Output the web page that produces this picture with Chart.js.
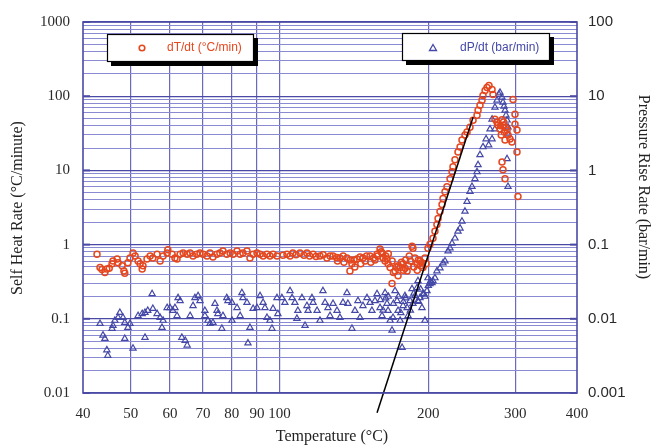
<!DOCTYPE html>
<html><head><meta charset="utf-8">
<script src="https://cdn.jsdelivr.net/npm/chart.js@4"></script>
<style>html,body{margin:0;padding:0;background:#fff}</style>
</head><body><canvas id="c" width="654" height="447"></canvas>
<script>
// ---- axis ticks ----
const xTickValues = [40,50,60,70,80,90,100,200,300,400];
const leftDecades = [0.01,0.1,1,10,100,1000];
const leftDecadeLabels = ['0.01','0.1','1','10','100','1000'];
const rightDecades = [0.001,0.01,0.1,1,10,100];
const rightDecadeLabels = ['0.001','0.01','0.1','1','10','100'];

// ---- dT/dt (°C/min) : [temperature °C, rate] ----
const dTdtLow = [[42.7,0.74],[43.3,0.49],[43.7,0.46],[44.3,0.42],[44.7,0.47],[45.2,0.48],[45.8,0.55],[46,0.6],[46.9,0.64],[47.1,0.57],[48,0.52],[48.4,0.44],[48.6,0.41],[49.3,0.57],[49.8,0.66],[50.5,0.77],[51,0.7],[51.7,0.6],[52.2,0.55],[52.7,0.47],[52.9,0.52],[53.9,0.64],[54.7,0.7],[55.4,0.66],[56.5,0.74],[57.3,0.6],[58.1,0.7],[59.2,0.77],[59.4,0.85],[60.6,0.74],[61.4,0.66],[62,0.64],[62.9,0.74],[63.8,0.77],[65,0.74],[65.9,0.77],[66.8,0.7],[68,0.74],[69,0.77],[70,0.74],[71.3,0.7],[72.3,0.77],[73.3,0.68],[74.7,0.74],[75.7,0.77],[76.8,0.82],[78.2,0.74],[79.4,0.77],[80.5,0.74],[82,0.82],[83.2,0.74],[84.3,0.77],[85.9,0.82],[87.1,0.66],[88.4,0.74],[90,0.77],[91.3,0.74],[92.6,0.7],[94.3,0.74],[95.6,0.7],[97,0.74],[98.8,0.7]];
const dTdtMid = [[101.6,0.72],[103.5,0.74],[105,0.7],[106.4,0.77],[108,0.73],[110,0.77],[112,0.72],[113.6,0.77],[115,0.7],[116.9,0.74],[118.5,0.69],[120.7,0.7],[122.5,0.73],[124.7,0.66],[126.5,0.7],[128.3,0.7],[130.5,0.67],[132.5,0.66],[134.5,0.7],[136.9,0.66],[138.8,0.44],[140.1,0.55],[141.5,0.62],[143.4,0.64],[145.5,0.68],[147.5,0.66],[150,0.7],[152.4,0.7],[155,0.66],[157.5,0.74],[159.7,0.87],[160.5,0.8],[161.2,0.77],[162,0.66],[163.5,0.6],[165,0.64],[165.8,0.55],[167.4,0.49],[168.9,0.3],[170,0.42],[171.3,0.44],[172.5,0.5],[173.7,0.38],[175.4,0.49],[176.5,0.58],[177.8,0.55],[179.5,0.48],[181.2,0.44],[182,0.52],[184,0.6],[185.4,0.95],[186.2,0.89],[188,0.66],[189.8,0.55],[191,0.62],[192.4,0.6],[195.1,0.49],[196.9,0.66],[199.7,0.89],[131,0.6],[135,0.58],[139,0.62],[142,0.5],[146,0.55],[149,0.6],[153,0.58],[156,0.62],[158,0.7],[164,0.7],[166,0.75],[169,0.6],[174,0.52],[178,0.45],[180,0.62],[183,0.7],[187,0.5],[190,0.45],[193,0.52],[194,0.57],[198,0.55]];
const dTdtRise = [[201.6,1.01],[204.4,1.22],[206.3,1.51],[208.2,1.87],[209.3,2.25],[211.2,2.8],[213.2,3.47],[214.2,4.17],[216.2,5.17],[218.2,6.04],[221.3,7.72],[223.4,9.58],[224.4,11.2],[226.5,13.9],[229.7,17.7],[231.9,20.7],[234,25.6],[237.3,29.9],[239.6,32.8],[242.9,38.3],[246.4,47.4],[251,55.4],[252.2,64.6],[254.5,75.4],[256.9,87.9],[258.1,102.5],[260.6,119.6],[263,131],[265.4,139],[269.2,123],[270.4,105.7]];
const dTdtPeak = [[272.9,48.9],[275.5,44.7],[276.7,40.7],[279.3,36],[282,48],[283.3,40.7],[286,25.6],[288.7,34.9],[290,29.9],[292.7,26.4],[295.4,24.1],[296.8,90.6],[299.6,57.1],[299.6,42],[302.4,34.9],[302.4,17.7],[303.8,4.44],[282,13],[283.3,10.2],[286,7.72],[280,40],[284,45],[287,38],[285,33],[281,30]];

// ---- dP/dt (bar/min) : [temperature °C, rate] ----
const dPdtLow = [[43.3,0.0086],[43.9,0.006],[44.3,0.0054],[44.9,0.0032],[44.7,0.0038],[45.8,0.0074],[46,0.0081],[46.4,0.0095],[47.1,0.0104],[47.5,0.0121],[48.2,0.0104],[48.6,0.0089],[48.6,0.0054],[49.3,0.0076],[49.8,0.0086],[50.5,0.004],[51.7,0.011],[52.7,0.0117],[53.4,0.0121],[53.4,0.0056],[54.1,0.0129],[55.2,0.0217],[55.4,0.0137],[56.5,0.0117],[57.3,0.0104],[57.8,0.0076],[58.1,0.0095],[59.2,0.0141],[60,0.0141],[60.8,0.0129],[61.4,0.0141],[62,0.011],[62.3,0.0192],[62.9,0.0175],[63.4,0.0056],[64.4,0.0051],[65,0.0044],[65.9,0.011],[66.8,0.015],[67.4,0.0192],[68.4,0.0204],[69,0.0175],[70.6,0.0129],[70.6,0.011],[71.6,0.0095],[72.3,0.0086],[73.3,0.0089],[74,0.016],[74.7,0.0129],[75,0.0117],[76.4,0.0074],[76.8,0.011],[78.2,0.0192],[78.6,0.0175],[80.1,0.0165],[80.1,0.0095],[82,0.0141],[83.2,0.011],[83.9,0.0224],[84.3,0.0192],[85.9,0.0165],[86.3,0.0047],[87.1,0.0076],[88.4,0.0137],[90,0.0141],[91.3,0.0204],[92.6,0.0165],[93.4,0.0141],[94.3,0.0104],[95.6,0.0095],[96.5,0.0074],[97,0.0137],[98.8,0.0192]];
const dPdtMid = [[99.2,0.0117],[101.1,0.0192],[102.5,0.0165],[105,0.0238],[106,0.0192],[107.4,0.0165],[108.4,0.0101],[108.9,0.0129],[111,0.0192],[112.6,0.0081],[113.6,0.015],[114.2,0.0129],[116.3,0.0192],[116.9,0.0165],[119.1,0.0129],[120.7,0.0095],[122.4,0.0238],[123.6,0.0165],[125.3,0.0141],[126.5,0.011],[128.3,0.016],[130.7,0.0129],[132.5,0.0104],[134.4,0.0165],[136.9,0.0224],[137.5,0.016],[140.1,0.0074],[142.1,0.0129],[144.1,0.0175],[145.5,0.0104],[147.5,0.015],[150.3,0.0192],[152.4,0.0165],[153.8,0.0129],[156,0.0175],[157.5,0.0217],[159.7,0.0141],[161.2,0.011],[163.5,0.0224],[165,0.016],[165.8,0.0129],[167.4,0.0095],[168.9,0.007],[169.7,0.0104],[171.3,0.0238],[172.9,0.0175],[173.7,0.0129],[175.4,0.0095],[177,0.0041],[177.8,0.015],[179.4,0.0204],[181.2,0.0141],[182,0.011],[183.7,0.0175],[185.4,0.0253],[188,0.0204],[189.8,0.0262],[190.6,0.0324],[194.2,0.0141],[195.1,0.0217],[196.9,0.0095],[199.7,0.0355],[203.5,0.0305],[160,0.018],[162,0.013],[164,0.019],[166,0.02],[170,0.016],[174,0.02],[176,0.012],[178,0.017],[180,0.019],[184,0.013],[187,0.022],[191,0.017],[193,0.025],[197,0.02],[200,0.028],[202,0.032]];
const dPdtRise = [[186.2,0.016],[190.6,0.0175],[192.4,0.0192],[196,0.0217],[198.8,0.0238],[201.6,0.0296],[204.4,0.0324],[206.3,0.0355],[208.2,0.0441],[211.2,0.0484],[214.2,0.0564],[216.2,0.06],[219.3,0.0816],[221.3,0.0895],[223.4,0.104],[226.5,0.122],[229.7,0.151],[231.9,0.166],[234,0.206],[237.3,0.28],[239.6,0.38],[242.9,0.517],[245.2,0.604],[248.6,0.772],[251,0.958],[252.2,1.19],[254.5,1.62],[258.1,2.07],[261.8,2.65],[266.7,3.6],[269.2,4.89],[272.9,7.08],[275.5,8.79],[278,10.57],[279.3,11.24],[282,9.64],[283.3,8.26],[284.7,7.31],[286,6.46],[287.3,5.54],[288.7,4.75],[290,3.83],[290,3.09],[288.7,1.43],[290,0.604],[272.9,3.6],[269.2,2.65],[265,2.2]];

// ---- drawn straight line (°C, °C/min) ----
const fitLine = [[157.5,0.0054],[246.4,52.1]];

const toXY = arr => arr.map(p => ({x:p[0], y:p[1]}));

function logTicks(decades){
  const t=[];
  decades.forEach((d,i)=>{
    for(let m=1;m<=9;m++){ if(i===decades.length-1 && m>1) break; t.push({value:m*d, major:m===1}); }
  });
  return t;
}
function decadeLabel(v, decades, labels){
  for(let i=0;i<decades.length;i++){ if(Math.abs(v/decades[i]-1)<1e-6) return labels[i]; }
  return '';
}

const RED='#e5471f', BLUE='#4448a6', GRID_MAJOR='#4a4aa6', GRID_MINOR='#8a8ad2';

const overlay = {
  id:'overlay',
  afterDraw(chart){
    const ctx=chart.ctx, a=chart.chartArea;
    ctx.save();
    // small major tick marks inside
    const yl=chart.scales.y;
    ctx.strokeStyle=GRID_MAJOR; ctx.lineWidth=2;
    leftDecades.forEach(v=>{const py=yl.getPixelForValue(v);
      ctx.beginPath();ctx.moveTo(a.left,py);ctx.lineTo(a.left+7,py);ctx.stroke();
      ctx.beginPath();ctx.moveTo(a.right-7,py);ctx.lineTo(a.right,py);ctx.stroke();});
    // frame
    ctx.lineWidth=1.6; ctx.strokeStyle=GRID_MAJOR;
    ctx.strokeRect(a.left,a.top,a.right-a.left,a.bottom-a.top);
    // legend boxes
    function box(x,y,w,h){
      ctx.fillStyle='#000'; ctx.fillRect(x+4,y+4,w,h);
      ctx.fillStyle='#fff'; ctx.fillRect(x,y,w,h);
      ctx.strokeStyle='#000'; ctx.lineWidth=1.2; ctx.strokeRect(x+0.5,y+0.5,w-1,h-1);
    }
    box(107,34,147,28);
    box(402,33,148,28);
    ctx.font='12px "Liberation Sans", Arial, sans-serif';
    ctx.textBaseline='middle'; ctx.textAlign='left';
    ctx.strokeStyle=RED; ctx.lineWidth=1.6;
    ctx.beginPath(); ctx.arc(142,48,2.8,0,Math.PI*2); ctx.stroke();
    ctx.fillStyle=RED; ctx.fillText('dT/dt (°C/min)',167,48);
    ctx.strokeStyle=BLUE; ctx.lineWidth=1.3;
    ctx.beginPath(); ctx.moveTo(433,44.5); ctx.lineTo(436.5,50.5); ctx.lineTo(429.5,50.5); ctx.closePath(); ctx.stroke();
    ctx.fillStyle=BLUE; ctx.fillText('dP/dt (bar/min)',460,48);
    // axis titles
    ctx.fillStyle='#222';
    ctx.font='16px "Liberation Serif", "Times New Roman", serif';
    ctx.textAlign='center'; ctx.textBaseline='middle';
    ctx.fillText('Temperature (°C)',332,437);
    ctx.save(); ctx.translate(18,208); ctx.rotate(-Math.PI/2); ctx.fillText('Self Heat Rate (°C/minute)',0,0); ctx.restore();
    ctx.save(); ctx.translate(643,187); ctx.rotate(Math.PI/2); ctx.fillText('Pressure Rise Rate (bar/min)',0,0); ctx.restore();
    ctx.restore();
  }
};

const redStyle = {pointStyle:'circle', pointRadius:3, pointBorderWidth:1.5, borderColor:RED, pointBorderColor:RED, pointBackgroundColor:'rgba(255,255,255,0)', showLine:false, yAxisID:'y', order:1};
const blueStyle = {pointStyle:'triangle', pointRadius:3.6, pointBorderWidth:1.2, borderColor:BLUE, pointBorderColor:BLUE, pointBackgroundColor:'rgba(255,255,255,0)', showLine:false, yAxisID:'y2', order:2};

new Chart(document.getElementById('c'), {
  type:'scatter',
  data:{datasets:[
    {label:'fit', type:'line', data:toXY(fitLine), borderColor:'#000', borderWidth:1.5, pointRadius:0, showLine:true, clip:false, yAxisID:'y', order:0},
    Object.assign({label:'dT/dt (°C/min)', data:toXY([...dTdtLow,...dTdtMid,...dTdtRise,...dTdtPeak])}, redStyle),
    Object.assign({label:'dP/dt (bar/min)', data:toXY([...dPdtLow,...dPdtMid,...dPdtRise])}, blueStyle)
  ]},
  options:{
    responsive:false, animation:false, devicePixelRatio:1,
    layout:{padding:{top:19,left:0,right:0,bottom:0}},
    plugins:{legend:{display:false}, tooltip:{enabled:false}},
    scales:{
      x:{type:'logarithmic', min:40, max:400, position:'bottom',
        afterBuildTicks:s=>{s.ticks=xTickValues.map(v=>({value:v}));},
        afterFit:s=>{s.height=54;},
        border:{display:false},
        grid:{drawTicks:false, lineWidth:1.2, color:c=>(c.tick && (c.tick.value===40||c.tick.value===400))?'rgba(0,0,0,0)':'rgba(80,80,175,0.85)', borderDash:[2,1]},
        ticks:{autoSkip:false, maxRotation:0, padding:12, color:'#2a2a2a', font:{family:'"Liberation Serif", serif', size:15}, callback:v=>String(v)}
      },
      y:{type:'logarithmic', min:0.01, max:1000, position:'left',
        afterBuildTicks:s=>{s.ticks=logTicks(leftDecades);},
        afterFit:s=>{s.width=83;},
        border:{display:false},
        grid:{drawTicks:false, color:c=>c.tick&&c.tick.major?GRID_MAJOR:GRID_MINOR, lineWidth:c=>c.tick&&c.tick.major?1.3:1},
        ticks:{autoSkip:false, padding:13, color:'#2a2a2a', font:{family:'"Liberation Serif", serif', size:15}, callback:v=>decadeLabel(v,leftDecades,leftDecadeLabels)}
      },
      y2:{type:'logarithmic', min:0.001, max:100, position:'right',
        afterBuildTicks:s=>{s.ticks=logTicks(rightDecades);},
        afterFit:s=>{s.width=77;},
        border:{display:false},
        grid:{drawOnChartArea:false, drawTicks:false},
        ticks:{autoSkip:false, padding:11, color:'#2a2a2a', font:{family:'"Liberation Sans", Arial, sans-serif', size:15}, callback:v=>decadeLabel(v,rightDecades,rightDecadeLabels)}
      }
    }
  },
  plugins:[overlay]
});
</script></body></html>
